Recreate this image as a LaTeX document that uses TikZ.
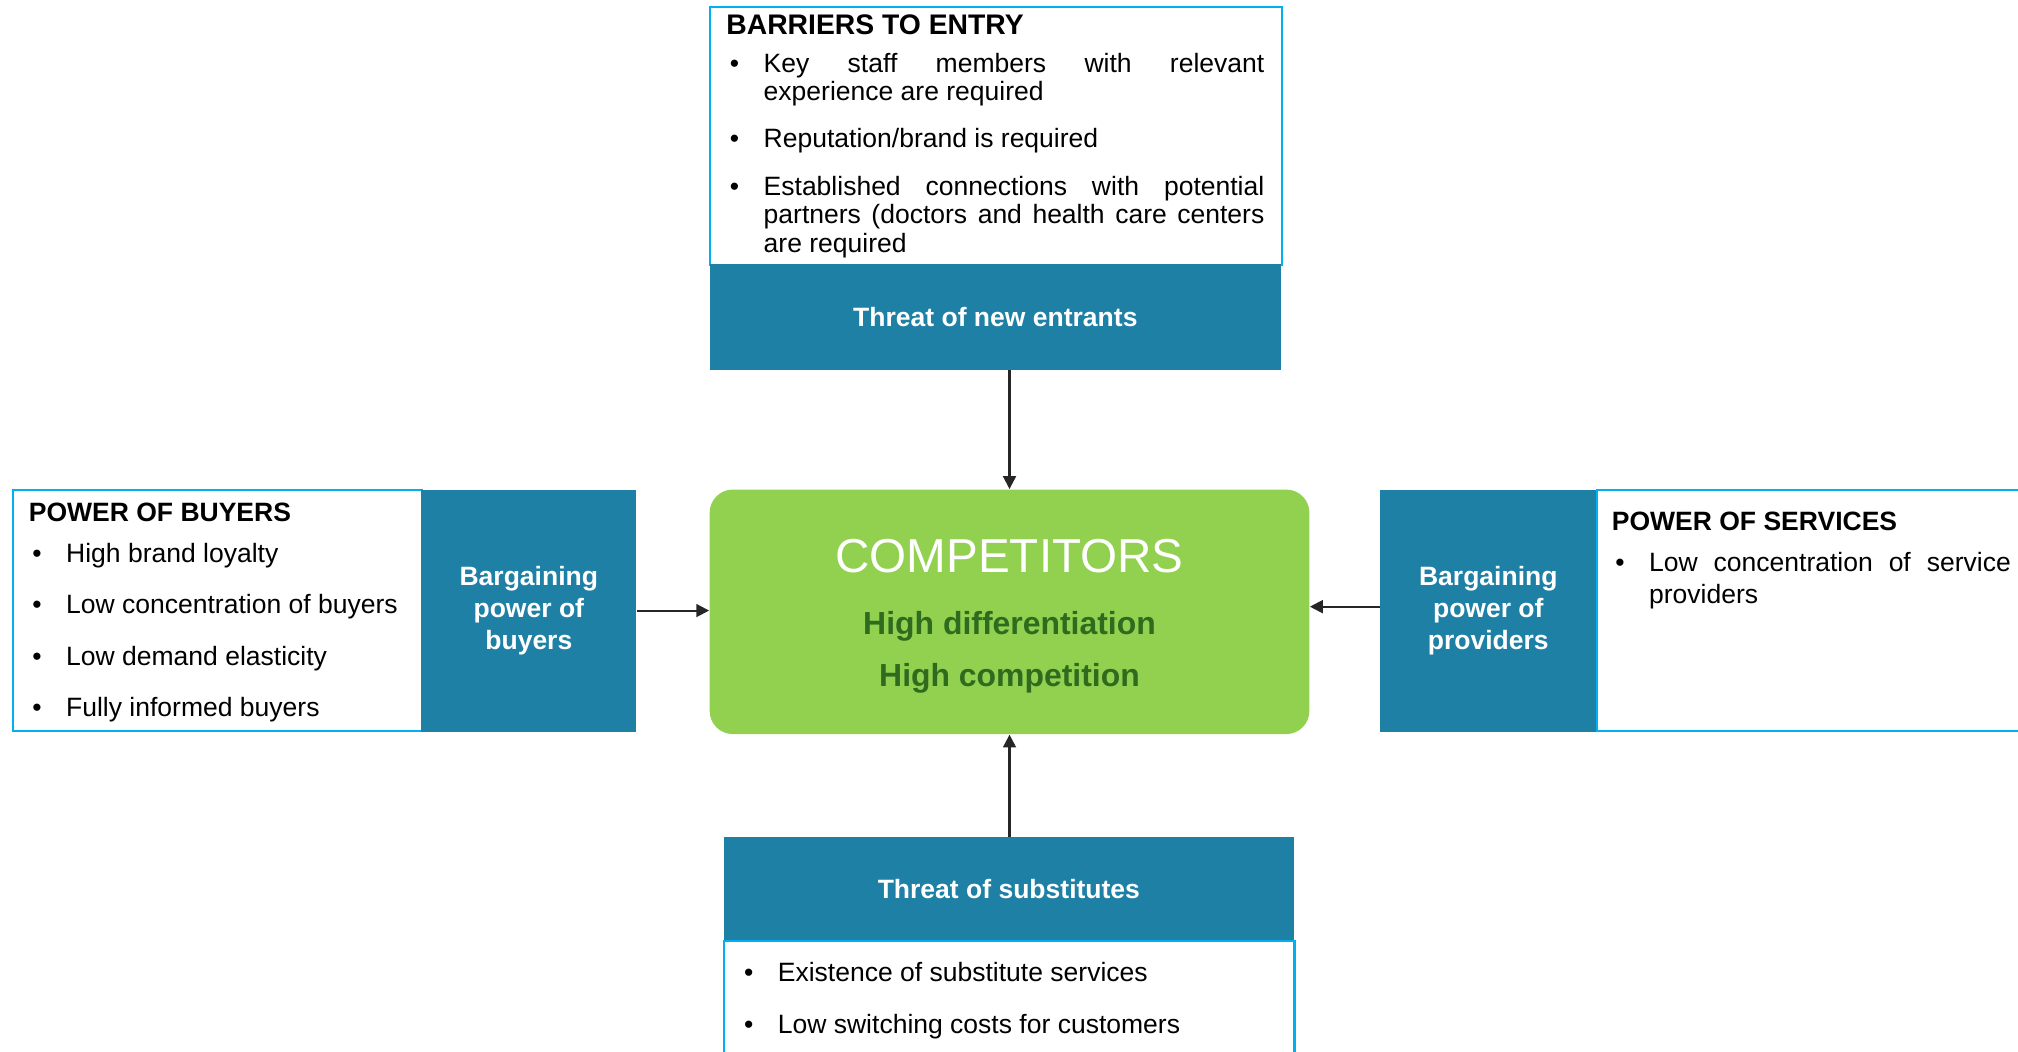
\documentclass[tikz,border=0pt]{standalone}
\usepackage{fontspec}
\setmainfont{Liberation Sans}
\usepackage{tikz}
\usetikzlibrary{positioning,arrows.meta}
\definecolor{forceblue}{RGB}{31,128,165}
\definecolor{forcegreen}{RGB}{146,208,80}
\definecolor{forcetext}{RGB}{46,107,30}
\definecolor{forceline}{RGB}{0,176,240}
\definecolor{forcearrow}{RGB}{38,38,38}
\newcommand{\hd}[2][10.3]{{\fontsize{#1}{#1}\selectfont\bfseries #2\par}\vspace{-4pt}}
\newcommand{\bul}[1]{\hangindent=14.5pt\hangafter=0\noindent\llap{\textbullet\hspace{9.5pt}}#1\par}
\tikzset{
  listbox/.style={draw=forceline,line width=0.8pt,fill=white,inner sep=0pt,anchor=north west},
  forcebox/.style={fill=forceblue,text=white,font=\fontsize{10.3}{12.5}\selectfont\bfseries,align=center,inner sep=0pt,anchor=north west},
  listtext/.style={anchor=base west,inner sep=0pt,align=justify,font=\fontsize{10.3}{12.5}\selectfont,
    execute at begin node={\setlength{\parskip}{7.5pt}\tolerance=10000\hyphenpenalty=10000\relax}},
  link/.style={draw=forcearrow,line width=0.8pt,-{Triangle[length=5pt,width=5pt]}}
}
\begin{document}
\begin{tikzpicture}[x=0.5pt,y=-0.5pt]
\useasboundingbox (0,0) rectangle (1568,817);

\node[listbox,minimum width=222pt,minimum height=100pt] (barriers) at (551,5) {};
\node[forcebox,minimum width=222pt,minimum height=41pt] (newent) at (551,205) {Threat of new entrants};
\node[listtext,text width=209pt,font=\fontsize{10.3}{11}\selectfont] (barrierstext) at ([xshift=6.5pt,yshift=-11pt]barriers.north west)
  {\hd[11]{BARRIERS TO ENTRY}\bul{Key staff members with relevant experience are required}\bul{Reputation/brand is required}\bul{Established connections with potential partners (doctors and health care centers are required}};

\node[fill=forcegreen,rounded corners=9pt,inner sep=0pt,anchor=north west,minimum width=233pt,minimum height=95pt] (comp) at (551,380) {};
\node[anchor=base,text=white,font=\fontsize{18.5}{20}\selectfont] (comptitle) at ([yshift=-32.5pt]comp.north) {COMPETITORS};
\node[anchor=base,text=forcetext,font=\fontsize{12.4}{14}\selectfont\bfseries] (compdiff) at ([yshift=-24pt]comptitle.base) {High differentiation};
\node[anchor=base,text=forcetext,font=\fontsize{12.4}{14}\selectfont\bfseries] (compcomp) at ([yshift=-20.25pt]compdiff.base) {High competition};

\node[listbox,minimum width=159pt,minimum height=93.5pt] (buyers) at (9,380) {};
\node[forcebox,minimum width=83.5pt,minimum height=94pt] (bargbuy) at (327,380) {Bargaining\\power of\\buyers};
\node[listtext,text width=150pt] (buyerstext) at ([xshift=6.5pt,yshift=-12.5pt]buyers.north west)
  {\hd{POWER OF BUYERS}\bul{High brand loyalty}\bul{Low concentration of buyers}\bul{Low demand elasticity}\bul{Fully informed buyers}};

\node[listbox,minimum width=200pt,minimum height=93.5pt] (services) at (1240,380) {};
\node[forcebox,minimum width=84pt,minimum height=94pt] (bargprov) at (1072,380) {Bargaining\\power of\\providers};
\node[listtext,text width=155pt] (servicestext) at ([xshift=6pt,yshift=-16pt]services.north west)
  {\hd{POWER OF SERVICES}\bul{Low concentration of service providers}};

\node[listbox,minimum width=221.5pt,minimum height=60pt] (substlist) at (562,730) {};
\node[forcebox,minimum width=221.5pt,minimum height=40pt] (subst) at (562,650) {Threat of substitutes};
\node[listtext,text width=200pt] (substtext) at ([xshift=6.5pt,yshift=-16.5pt]substlist.north west)
  {\bul{Existence of substitute services}\bul{Low switching costs for customers}};

\draw[link] (newent.south -| comp.north) -- (comp.north);
\draw[link] (bargbuy.east) -- (bargbuy.east -| comp.west);
\draw[link] ([yshift=1.5pt]bargprov.west) -- ([yshift=1.5pt]bargprov.west -| comp.east);
\draw[link] (subst.north -| comp.south) -- (comp.south);
\end{tikzpicture}
\end{document}
